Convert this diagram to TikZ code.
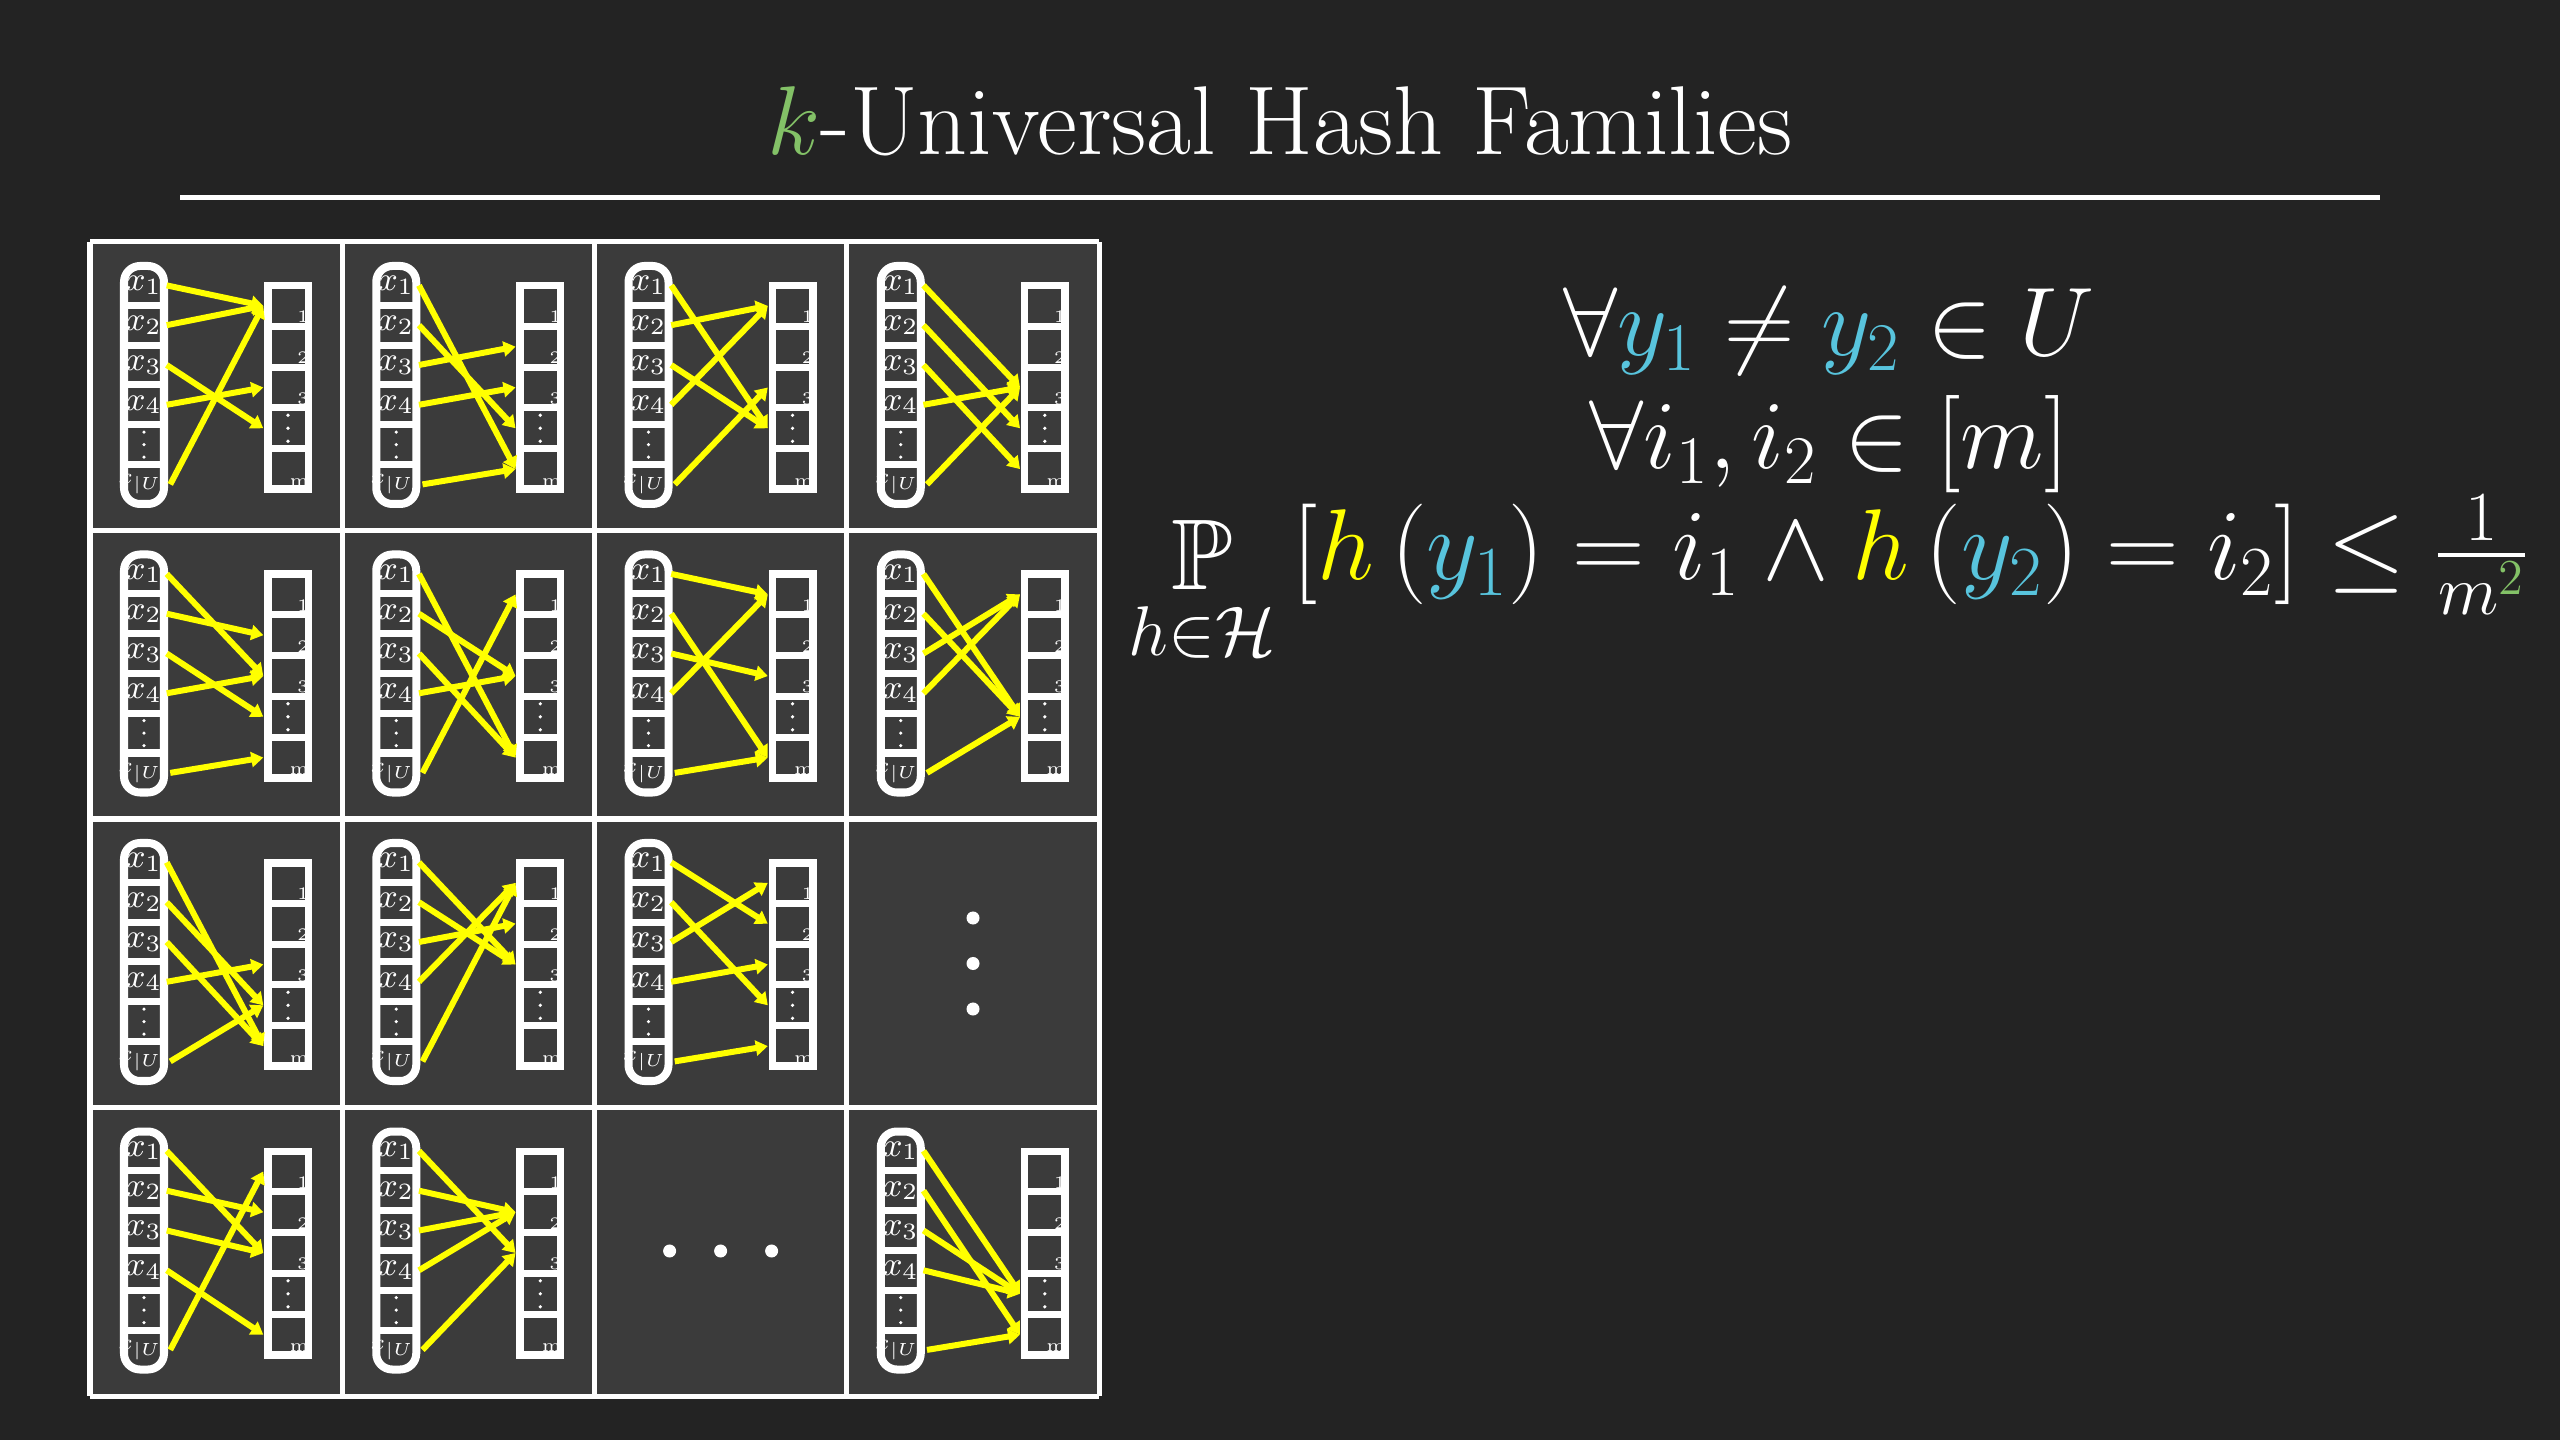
\documentclass[tikz,border=0pt]{standalone}
\usepackage{fix-cm}
\usepackage{amsmath,amssymb}
\usetikzlibrary{arrows.meta}

\definecolor{bggray}{RGB}{35,35,35}
\definecolor{cellgray}{RGB}{59,59,59}
\definecolor{hyellow}{RGB}{255,255,0}
\definecolor{yblue}{HTML}{58C4DD}
\definecolor{kgreen}{HTML}{83C167}

\tikzset{
    xslot/.style={minimum width=0.44cm, minimum height=0.33cm, inner sep=0pt, text=white, font=\fontsize{9.5}{11}\selectfont},
    hbin/.style={minimum width=0.48cm, minimum height=0.338cm, inner sep=0pt},
    binnum/.style={anchor=south east, inner sep=0pt, xshift=-0.03cm, text=white, font=\fontsize{5}{6}\selectfont},
    pillframe/.style={draw=white, line width=0.08cm, fill=cellgray, rounded corners=0.16cm},
    binframe/.style={draw=white, line width=0.075cm},
    divider/.style={draw=white, line width=0.07cm},
    smalldot/.style={fill=white},
    hasharrow/.style={draw=hyellow, line width=0.06cm, -{Triangle[length=0.12cm,width=0.15cm]}},
    gridline/.style={draw=white, line width=0.05cm},
    formula/.style={anchor=base, text=white, font=\fontsize{27.7}{32}\selectfont},
}

% one hash function: #1 name, #2 left, #3 top, #4 slot/bin pairs
\newcommand{\hashcell}[4]{%
    \begin{scope}[shift={(#2,#3)}]
        % domain
        \draw[pillframe] (34,24) rectangle (74,262);
        \foreach \yy in {63.3,103.1,142.9,182.7,222.5}
            \draw[divider] (34,\yy) -- (74,\yy);
        \node[xslot] (#1-x1) at (54,43.4) {$x_1$};
        \node[xslot] (#1-x2) at (54,83.2) {$x_2$};
        \node[xslot] (#1-x3) at (54,123) {$x_3$};
        \node[xslot] (#1-x4) at (54,162.8) {$x_4$};
        \node[xslot] (#1-x5) at (54,202.6) {};
        \node[xslot, font=\fontsize{6}{7}\selectfont] (#1-x6) at (54,242.4) {$x_{|U|}$};
        \foreach \yy in {190.1,202.6,215.1}
            \fill[smalldot] (54,\yy) circle[radius=0.018cm];
        % bins
        \node[hbin] (#1-b1) at (198,63.9) {};
        \node[hbin] (#1-b2) at (198,104.7) {};
        \node[hbin] (#1-b3) at (198,145.5) {};
        \node[hbin] (#1-b4) at (198,186.3) {};
        \node[hbin] (#1-b5) at (198,227.1) {};
        \foreach \yy in {173.3,186.3,199.3}
            \fill[smalldot] (198,\yy) circle[radius=0.018cm];
        \node[binnum] (#1-n1) at (#1-b1.south east) {1};
        \node[binnum] (#1-n2) at (#1-b2.south east) {2};
        \node[binnum] (#1-n3) at (#1-b3.south east) {3};
        \node[binnum] (#1-n5) at (#1-b5.south east) {m};
        \draw[binframe] (177.75,43.75) rectangle (218.25,247.25);
        \foreach \yy in {84.3,125.1,165.9,206.7}
            \draw[divider] (177.75,\yy) -- (218.25,\yy);
        % arrows
        \foreach \s/\t in {#4}
            \draw[hasharrow] (#1-x\s.east) -- (#1-b\t.west);
    \end{scope}}

\begin{document}
\begin{tikzpicture}[x=0.01cm, y=-0.01cm]

    % Background
    \fill[bggray] (0,0) rectangle (2560,1440);
    \useasboundingbox (0,0) rectangle (2560,1440);

    % Title
    \node[anchor=base, text=white, font=\fontsize{27.8}{32}\selectfont] (title) at (1280,155) {$\textcolor{kgreen}{k}$-Universal Hash Families};
    \draw[white, line width=0.05cm] (180,198) -- (2380,198);

    % Grid
    \fill[cellgray] (90,242) rectangle (1099,1396);
    \foreach \c in {0,...,4}
        \draw[gridline] ({90+252.25*\c},242) -- ({90+252.25*\c},1396);
    \foreach \r in {0,...,4}
        \draw[gridline] (90,{242+288.5*\r}) -- (1099,{242+288.5*\r});

    % Hash functions
    \hashcell{h11}{90}{242}{1/1,2/1,3/4,4/3,6/1}
    \hashcell{h12}{342.25}{242}{1/5,2/4,3/2,4/3,6/5}
    \hashcell{h13}{594.5}{242}{1/4,2/1,3/4,4/1,6/3}
    \hashcell{h14}{846.75}{242}{1/3,2/4,3/5,4/3,6/3}
    \hashcell{h21}{90}{530.5}{1/3,2/2,3/4,4/3,6/5}
    \hashcell{h22}{342.25}{530.5}{1/5,2/3,3/5,4/3,6/1}
    \hashcell{h23}{594.5}{530.5}{1/1,2/5,3/3,4/1,6/5}
    \hashcell{h24}{846.75}{530.5}{1/4,2/4,3/1,4/1,6/4}
    \hashcell{h31}{90}{819}{1/5,2/4,3/5,4/3,6/4}
    \hashcell{h32}{342.25}{819}{1/3,2/3,3/2,4/1,6/1}
    \hashcell{h33}{594.5}{819}{1/2,2/4,3/1,4/3,6/5}
    \hashcell{h41}{90}{1107.5}{1/3,2/2,3/3,4/5,6/1}
    \hashcell{h42}{342.25}{1107.5}{1/3,2/2,3/2,4/2,6/3}
    \hashcell{h44}{846.75}{1107.5}{1/4,2/5,3/4,4/4,6/5}

    % Dots
    \foreach \yy in {918,963.5,1009}
        \fill[white] (973,\yy) circle[radius=0.065cm];
    \foreach \xx in {669.6,720.6,771.6}
        \fill[white] (\xx,1251) circle[radius=0.065cm];

    % Definition
    \node[formula] (pairs) at (1829,356) {$\forall \textcolor{yblue}{y_1} \neq \textcolor{yblue}{y_2} \in U$};
    \node[formula] (slots) at (1829,469) {$\forall i_1, i_2 \in [m]$};
    \node[formula, font=\fontsize{28.6}{33}\selectfont] (bound) at (1829,580) {$\mathop{\mathbb{P}}\limits_{h\in\mathcal{H}} \left[\textcolor{hyellow}{h}\left(\textcolor{yblue}{y_1}\right) = i_1 \wedge \textcolor{hyellow}{h}\left(\textcolor{yblue}{y_2}\right) = i_2\right] \leq \frac{1}{m^{\textcolor{kgreen}{2}}}$};

\end{tikzpicture}
\end{document}
